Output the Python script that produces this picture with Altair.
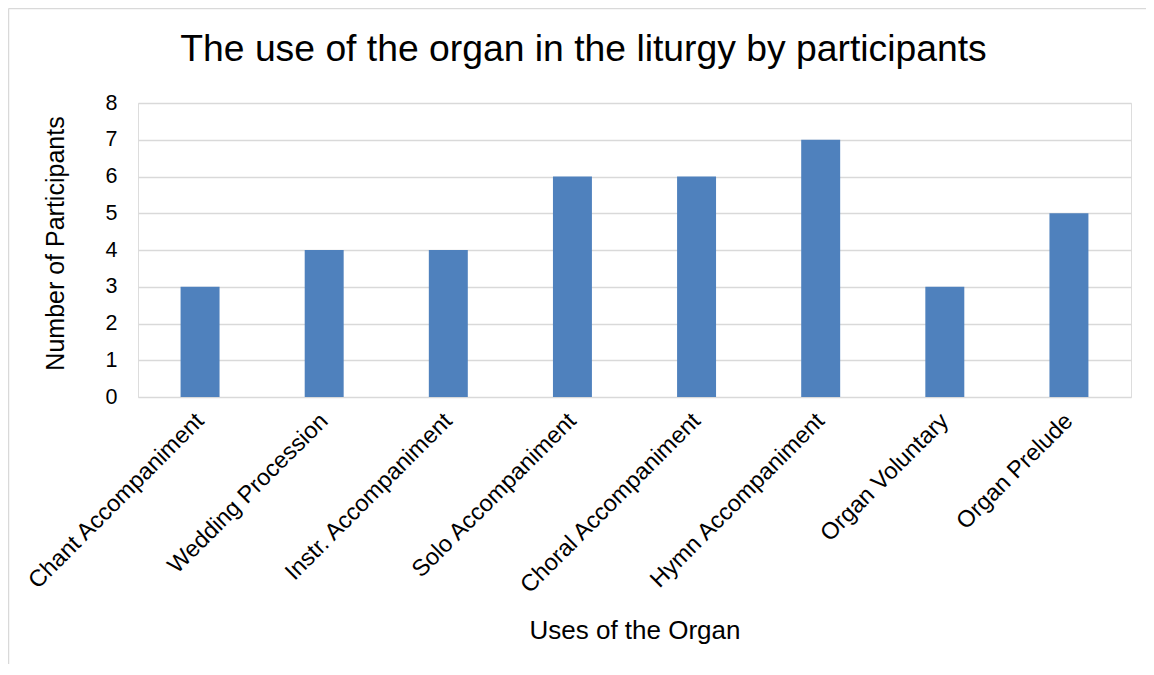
import altair as alt
import pandas as pd

categories = [
    "Chant Accompaniment",
    "Wedding Procession",
    "Instr. Accompaniment",
    "Solo Accompaniment",
    "Choral Accompaniment",
    "Hymn Accompaniment",
    "Organ Voluntary",
    "Organ Prelude",
]
participants = [3, 4, 4, 6, 6, 7, 3, 5]
y_ticks = [0, 1, 2, 3, 4, 5, 6, 7, 8]

df = pd.DataFrame({"use": categories, "n": participants})

FONT = "Liberation Sans"
W, H = 993, 294

bars = alt.Chart(df).mark_bar(color="#4f81bd").encode(
    x=alt.X(
        "use:N",
        sort=categories,
        scale=alt.Scale(paddingInner=0.686, paddingOuter=0.343),
        axis=alt.Axis(
            title="Uses of the Organ",
            labelAngle=-45,
            labelAlign="right",
            labelBaseline="middle",
            labelFontSize=23.5,
            labelPadding=20,
            labelLimit=0,
            labelColor="#000000",
            labelFont=FONT,
            ticks=False,
            domain=False,
            titleFont=FONT,
            titleFontSize=26,
            titleFontWeight="normal",
            titleColor="#000000",
            titleX=W / 2,
            titleY=233,
            titleAlign="center",
            titleBaseline="middle",
        ),
    ),
    y=alt.Y(
        "n:Q",
        scale=alt.Scale(domain=[0, 8], nice=False),
        axis=alt.Axis(
            title="Number of Participants",
            values=y_ticks,
            format="d",
            labelFontSize=21.5,
            labelPadding=21,
            labelColor="#000000",
            labelFont=FONT,
            ticks=False,
            domain=False,
            grid=True,
            gridColor="#d9d9d9",
            gridWidth=1.5,
            titleFont=FONT,
            titleFontSize=25,
            titleFontWeight="normal",
            titleColor="#000000",
            titleAngle=-90,
            titleX=-83,
            titleY=140,
            titleAlign="center",
            titleBaseline="middle",
        ),
    ),
)

frame_df = pd.DataFrame({"k": [0]})
top_line = alt.Chart(frame_df).mark_rule(color="#d9d9d9", strokeWidth=1.5).encode(
    x=alt.value(-129.5), x2=alt.value(1010), y=alt.value(-94.5)
)
left_line = alt.Chart(frame_df).mark_rule(color="#d9d9d9", strokeWidth=1.5).encode(
    x=alt.value(-129.5), y=alt.value(-94.5), y2=alt.value(570)
)

chart = (
    alt.layer(top_line, left_line, bars)
    .properties(
        width=W,
        height=H,
        title=alt.TitleParams(
            "The use of the organ in the liturgy by participants",
            font=FONT,
            fontSize=37.3,
            fontWeight="normal",
            color="#000000",
            anchor="middle",
            dx=-51,
            dy=91,
            offset=0,
            baseline="alphabetic",
        ),
        autosize=alt.AutoSizeParams(type="none"),
        padding={"left": 130, "top": 95, "right": 15, "bottom": 267},
    )
    .configure_view(stroke=None)
    .configure(background="#ffffff")
)

chart.save("out.html", embed_options={"renderer": "svg", "actions": False})
